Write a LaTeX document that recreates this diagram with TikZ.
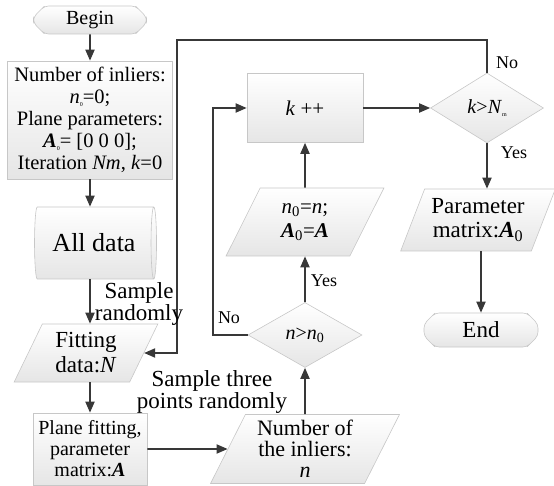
\documentclass[tikz,border=0pt]{standalone}
\usepackage{fontspec}
\setmainfont{Liberation Serif}
\usetikzlibrary{shapes.geometric,shapes.misc,arrows.meta}
\newcommand\fsz[2]{\fontsize{#1}{#2}\selectfont}
\newcommand\tinyidx[1]{\raisebox{-0.3ex}{\fontsize{6}{6}\selectfont #1}}
\newcommand\bA{\textbf{\textit{A}}}

\begin{document}
\begin{tikzpicture}[x=1pt,y=-1pt,
  box/.style={draw=black!22, line width=0.6pt, top color=white, bottom color=black!10,
              align=center, inner sep=0pt, text=black},
  proc/.style={box, rectangle},
  term/.style={box, chamfered rectangle, chamfered rectangle xsep=8pt, rounded corners=4pt},
  io/.style={box, trapezium, trapezium left angle=64, trapezium right angle=116,
             trapezium stretches=true},
  dec/.style={box, diamond},
  store/.style={box, cylinder, shape border rotate=0, aspect=0.3},
  flow/.style={draw=black!78, line width=1.8pt, -{Triangle[length=11pt,width=9pt]}},
  lab/.style={font=\fsz{18}{18}, inner sep=1pt, align=center}
]
\useasboundingbox (0,0) rectangle (554,486);

% left column
\node[term, minimum width=113, minimum height=28, font=\fsz{20}{22}] (begin) at (90,20) {Begin};
\node[proc, minimum width=165, minimum height=118, font=\fsz{20.5}{22}] (init) at (90,120)
  {Number of inliers:\\ \textit{n}\tinyidx{0}=0;\\ Plane parameters:\\
   \bA\tinyidx{0}= [0 0 0];\\ Iteration \textit{Nm}, \textit{k}=0};
\node[store, minimum width=72, minimum height=122, font=\fsz{26}{26}] (data) at (94,243) {All data};
\node[io, minimum width=144, minimum height=58, font=\fsz{23}{25}] (fit) at (86,353)
  {Fitting\\data:\textit{N}};
\node[proc, minimum width=114, minimum height=72, font=\fsz{20}{21}] (plane) at (90,449)
  {Plane fitting,\\parameter\\matrix:\bA};

% middle column
\node[io, minimum width=189, minimum height=69, font=\fsz{22}{21}] (inl) at (305,449)
  {Number of\\the inliers:\\\textit{n}};
\node[dec, minimum width=114, minimum height=65, font=\fsz{20}{20}] (dec1) at (305,335)
  {\textit{n}>\textit{n}\textsubscript{0}};
\node[io, minimum width=158, minimum height=68, font=\fsz{21}{24}] (upd) at (305,222)
  {\textit{n}\textsubscript{0}=\textit{n};\\\bA\textsubscript{0}=\bA};
\node[proc, minimum width=116, minimum height=69, font=\fsz{21}{21}] (kpp) at (305,108)
  {\textit{k} ++};

% right column
\node[dec, minimum width=113, minimum height=70, font=\fsz{20}{20}] (dec2) at (487,108)
  {\textit{k}>\textit{N}\tinyidx{m}};
\node[io, minimum width=155, minimum height=62, font=\fsz{23}{24}] (param) at (478,220)
  {Parameter\\matrix:\bA\textsubscript{0}};
\node[term, minimum width=114, minimum height=34, font=\fsz{23}{23}] (end) at (481,330) {End};

\coordinate (loop) at (177,40);

% connectors
\draw[flow] (begin) -- (init);
\draw[flow] (init.south) -- (init.south |- data.north);
\draw[flow] (init.south |- data.south) -- (init.south |- fit.north);
\draw[flow] (plane.north |- fit.south) -- (plane.north);
\draw[flow] (plane.east) -- (inl.west);
\draw[flow] (inl.north) -- (dec1.south);
\draw[flow] (dec1.north) -- (upd.south);
\draw[flow] (dec1.west) -- ++(-35,0) |- (kpp.west);
\draw[flow] (upd.north) -- (kpp.south);
\draw[flow] (kpp.east) -- (dec2.west);
\draw[flow] (dec2.north) |- (loop) |- (fit.east);
\draw[flow] (dec2.south) -- (dec2.south |- param.north);
\draw[flow] (param.south -| end.north) -- (end.north);

% labels
\node[lab, font=\fsz{23}{20}] (lsr) at (139,304) {Sample\\randomly};
\node[lab, font=\fsz{23}{20}] (lst) at (212,392) {Sample three\\points randomly};
\node[lab] (y1) at (324,281) {Yes};
\node[lab] (n1) at (229,318) {No};
\node[lab] (n2) at (507,63) {No};
\node[lab] (y2) at (514,153) {Yes};
\end{tikzpicture}
\end{document}
